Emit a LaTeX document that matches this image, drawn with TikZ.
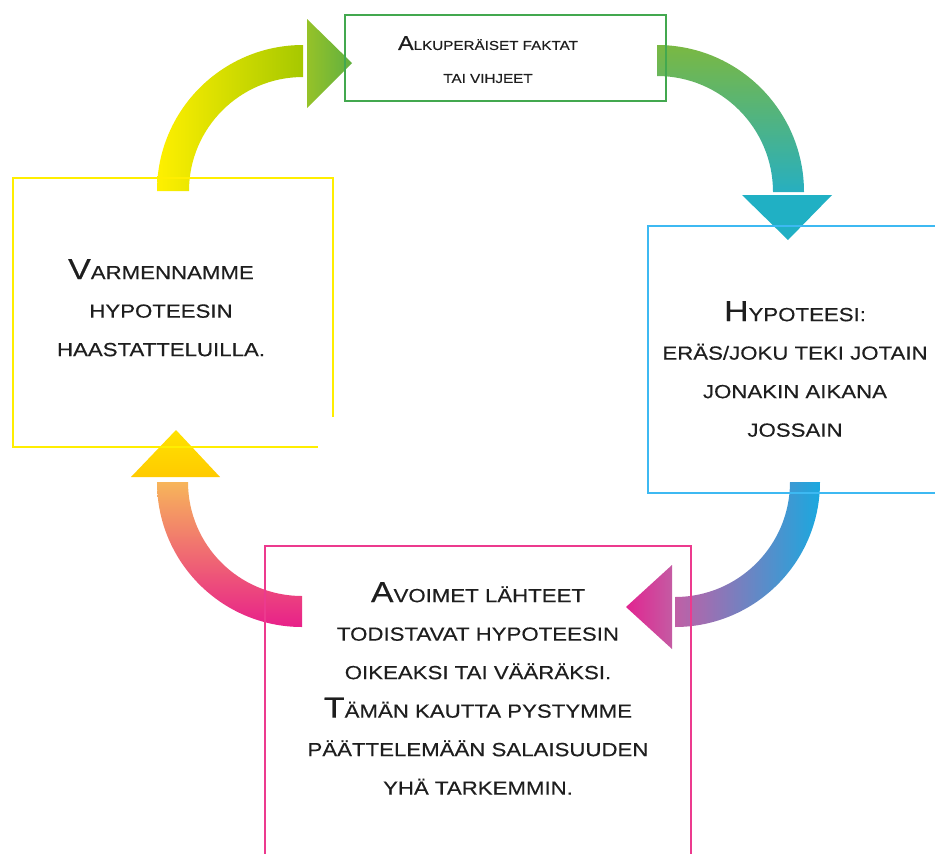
\documentclass[tikz,border=0pt]{standalone}
\usepackage{fontspec}
\usetikzlibrary{calc}

\newfontfamily\kirjain[FakeStretch=1.17,FakeBold=0.4]{Liberation Sans}

% versalitas: inicial grande y el resto en mayusculas
\newcommand{\isok}[2][29]{{\fontsize{#1}{#1}\selectfont #2}}
\newcommand{\pienet}[1]{\MakeUppercase{#1}}

\definecolor{keltainen}{HTML}{FFEE00}
\definecolor{vihrea}{HTML}{43A84F}
\definecolor{sininen}{HTML}{3DB9F2}
\definecolor{pinkki}{HTML}{EC3A8E}
\definecolor{teksti}{HTML}{1E1E1E}
% colores de las flechas
\definecolor{kelta1}{HTML}{FFF000}
\definecolor{kelta2}{HTML}{A6C800}
\definecolor{vihr1}{HTML}{96C228}
\definecolor{vihr2}{HTML}{60B040}
\definecolor{vihr3}{HTML}{7AB842}
\definecolor{turk1}{HTML}{27AFC0}
\definecolor{turk2}{HTML}{20B0C4}
\definecolor{sini1}{HTML}{1AA8DF}
\definecolor{viol1}{HTML}{C060A6}
\definecolor{magen1}{HTML}{E22490}
\definecolor{magen2}{HTML}{C45BA3}
\definecolor{oranssi}{HTML}{F7B55A}
\definecolor{magen3}{HTML}{E8208A}
\definecolor{kulta1}{HTML}{FFE200}
\definecolor{kulta2}{HTML}{FFCA00}

\tikzset{
  laatikko/.style={rectangle, line width=2pt, inner sep=0pt, outer sep=0pt},
  selite/.style={align=center, anchor=north, inner sep=0pt, text=teksti,
    font=\kirjain\fontsize{19}{38.5}\selectfont},
}

\begin{document}
\begin{tikzpicture}[x=1pt,y=-1pt]
	\useasboundingbox (0,0) rectangle (935,854);
	\clip (0,0) rectangle (935,854);

	% centros de los arcos
	\coordinate (k1) at (303,191);
	\coordinate (k2) at (657,192);
	\coordinate (k3) at (675,482);
	\coordinate (k4) at (302,482);

	% flecha amarilla -> verde (arriba a la izquierda)
	\shade[left color=kelta1, right color=kelta2]
		($(k1)+(-146,0)$) arc[start angle=180, end angle=90, radius=146pt]
		-- ++(0,32) arc[start angle=90, end angle=180, radius=114pt] -- cycle;
	\shade[left color=vihr1, right color=vihr2]
		($(k1)+(4,-172)$) -- ($(k1)+(4,-83)$) -- ($(k1)+(49,-128)$) -- cycle;

	% flecha verde -> azul (arriba a la derecha)
	\shade[top color=vihr3, bottom color=turk1]
		($(k2)+(0,-147)$) arc[start angle=90, end angle=0, radius=147pt]
		-- ++(-31,0) arc[start angle=0, end angle=90, radius=116pt] -- cycle;
	\fill[turk2]
		($(k2)+(85,3)$) -- ($(k2)+(175,3)$) -- ($(k2)+(131,48)$) -- cycle;

	% flecha azul -> rosa (abajo a la derecha)
	\shade[left color=viol1, right color=sini1]
		($(k3)+(145,0)$) arc[start angle=0, end angle=-90, radius=145pt]
		-- ++(0,-30) arc[start angle=-90, end angle=0, radius=115pt] -- cycle;
	\shade[left color=magen1, right color=magen2]
		($(k3)+(-3,83)$) -- ($(k3)+(-3,167)$) -- ($(k3)+(-49,125)$) -- cycle;

	% flecha rosa -> amarilla (abajo a la izquierda)
	\shade[top color=oranssi, bottom color=magen3]
		($(k4)+(0,145)$) arc[start angle=-90, end angle=-180, radius=145pt]
		-- ++(31,0) arc[start angle=180, end angle=270, radius=114pt] -- cycle;
	\shade[top color=kulta1, bottom color=kulta2]
		($(k4)+(-171,-5)$) -- ($(k4)+(-82,-5)$) -- ($(k4)+(-126,-52)$) -- cycle;

	% cajas
	\node[laatikko, draw=vihrea, line width=1.6pt, minimum width=321pt, minimum height=86pt] (alku) at (505.5,58) {};
	\node[laatikko, draw=sininen, minimum width=294pt, minimum height=267pt] (hypo) at (795,359.5) {};
	\node[laatikko, draw=pinkki, minimum width=426pt, minimum height=334pt] (avoi) at (478,713) {};
	\node[laatikko, minimum width=320pt, minimum height=269pt] (varm) at (173,312.5) {};
	% la caja amarilla queda abierta en la esquina
	\draw[keltainen, line width=2pt] ($(varm.south east)+(0,-30)$) -- (varm.north east)
		-- (varm.north west) -- (varm.south west) -- ($(varm.south east)+(-15,0)$);

	% textos
	\node[selite, font=\kirjain\fontsize{13}{33}\selectfont] (alkut) at (488,36)
		{\isok[20]{A}\pienet{lkuperäiset faktat}\\ \pienet{tai vihjeet}};
	\node[selite] (hypot) at (795,301)
		{\isok{H}\pienet{ypoteesi:}\\ \pienet{eräs/joku teki jotain}\\
		 \pienet{jonakin aikana}\\ \pienet{jossain}};
	\node[selite] (avoit) at (478,582)
		{\isok{A}\pienet{voimet lähteet}\\ \pienet{todistavat hypoteesin}\\
		 \pienet{oikeaksi tai vääräksi.}\\ \isok{T}\pienet{ämän kautta pystymme}\\
		 \pienet{päättelemään salaisuuden}\\ \pienet{yhä tarkemmin.}};
	\node[selite] (varmt) at (161,259)
		{\isok{V}\pienet{armennamme}\\ \pienet{hypoteesin}\\ \pienet{haastatteluilla.}};
\end{tikzpicture}
\end{document}
